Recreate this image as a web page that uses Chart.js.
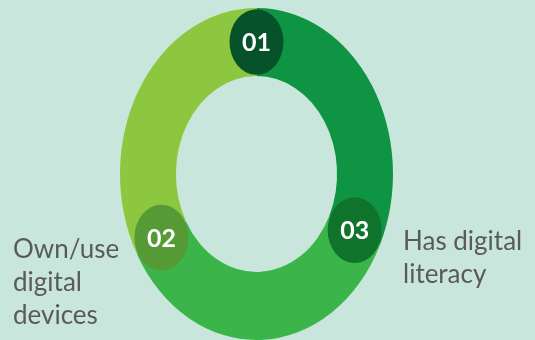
<!DOCTYPE html>
<html>
<head>
<meta charset="utf-8">
<script src="https://cdn.jsdelivr.net/npm/chart.js@4.4.1/dist/chart.umd.min.js"></script>
<style>
html,body{margin:0;padding:0;background:#c9e6dc;}
#wrap{position:relative;width:535px;height:340px;overflow:hidden;}
canvas{display:block;}
</style>
</head>
<body>
<div id="wrap"><canvas id="c" width="535" height="340"></canvas></div>
<script>
// Data
const categories = ["Access", "Has digital literacy", "Own/use digital devices"];
const shares = [32, 35, 33];
const segmentColors = ["#0f9444", "#3bb54a", "#8dc63f"];
const badgeLabels = ["01", "03", "02"];
const badgeColors = ["#06522b", "#10732b", "#559a35"];
const sideLabels = [
  {lines: ["Own/use", "digital", "devices"], x: 13, y: 258, align: "left"},
  {lines: ["Has digital", "literacy"], x: 403, y: 250, align: "left"}
];
const STRETCH_Y = 1.216;

const ellipsePlugin = {
  id: 'ellipse',
  beforeDatasetsDraw(chart) {
    const a = chart.getDatasetMeta(0).data[0];
    const ctx = chart.ctx;
    ctx.save();
    ctx.translate(a.x, a.y);
    ctx.scale(1, STRETCH_Y);
    ctx.translate(-a.x, -a.y);
  },
  afterDatasetsDraw(chart) {
    const ctx = chart.ctx;
    const meta = chart.getDatasetMeta(0);
    const arcs = meta.data;
    const cx = arcs[0].x, cy = arcs[0].y;
    const rMid = (arcs[0].outerRadius + arcs[0].innerRadius) / 2;
    const badgeR = 27;
    const pts = [];
    arcs.forEach((arc, i) => {
      const ang = arc.startAngle;
      const x = cx + Math.cos(ang) * rMid;
      const y = cy + Math.sin(ang) * rMid;
      ctx.beginPath();
      ctx.fillStyle = badgeColors[i];
      ctx.arc(x, y, badgeR, 0, Math.PI * 2);
      ctx.fill();
      pts.push([x, cy + (y - cy) * STRETCH_Y]);
    });
    ctx.restore();
    ctx.save();
    ctx.fillStyle = "#ffffff";
    ctx.font = "bold 25px Lato";
    ctx.textAlign = "center";
    ctx.textBaseline = "middle";
    pts.forEach((p, i) => ctx.fillText(badgeLabels[i], p[0], p[1] + 1));
    ctx.fillStyle = "#5a5a5a";
    ctx.font = "26px Lato";
    ctx.textBaseline = "alphabetic";
    sideLabels.forEach(l => {
      ctx.textAlign = l.align;
      l.lines.forEach((t, j) => ctx.fillText(t, l.x, l.y + j * 33));
    });
    ctx.restore();
  }
};

new Chart(document.getElementById('c'), {
  type: 'doughnut',
  data: {
    labels: categories,
    datasets: [{
      data: shares,
      backgroundColor: segmentColors,
      borderWidth: 0,
      hoverOffset: 0
    }]
  },
  options: {
    responsive: false,
    animation: false,
    cutout: '59%',
    layout: {padding: {left: 120, right: 142, top: 37.5, bottom: 29.5}},
    plugins: {legend: {display: false}, tooltip: {enabled: false}}
  },
  plugins: [ellipsePlugin]
});
</script>
</body>
</html>
